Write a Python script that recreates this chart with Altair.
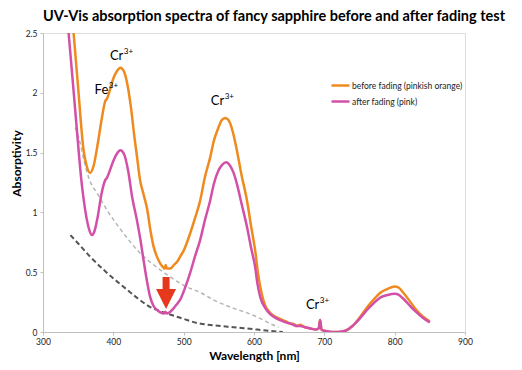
import altair as alt
import pandas as pd

# ---- data ----
BEFORE_NM = [343.5, 350, 357.7, 362, 367, 372, 378, 384, 388.5, 391, 395, 400, 405, 410, 415, 420, 425,
             430, 434, 438, 443, 448, 453, 457, 462, 467, 471, 473, 474.5, 476, 481, 486, 491, 495, 500, 509,
             516, 523.5, 530, 537.7, 543, 549.5, 554, 559, 564, 570, 575.6, 582, 590, 596, 601.7, 606, 611,
             616, 623, 630, 637, 645, 652, 656, 661, 666, 672, 680, 688, 692, 694, 696, 700, 710, 720, 730,
             740, 750, 760, 770, 780, 790, 800, 806, 812, 820, 830, 840, 850]
BEFORE_ABS = [2.50, 2.04, 1.52, 1.39, 1.33, 1.39, 1.58, 1.80, 1.93, 1.95, 2.02, 2.12, 2.18, 2.21, 2.18,
              2.07, 1.88, 1.63, 1.45, 1.27, 1.15, 1.03, 0.84, 0.72, 0.63, 0.57, 0.54, 0.53, 0.56, 0.53, 0.53,
              0.56, 0.59, 0.63, 0.68, 0.82, 0.95, 1.10, 1.29, 1.46, 1.60, 1.71, 1.77, 1.79, 1.77, 1.67, 1.52,
              1.32, 1.10, 0.88, 0.68, 0.48, 0.32, 0.22, 0.16, 0.13, 0.11, 0.09, 0.07, 0.07, 0.05, 0.06, 0.04,
              0.03, 0.02, 0.03, 0.10, 0.02, 0.01, 0.0, 0.0, 0.01, 0.05, 0.12, 0.20, 0.27, 0.33, 0.36, 0.38,
              0.37, 0.33, 0.27, 0.19, 0.13, 0.09]

AFTER_NM = [336.4, 343, 350.6, 354, 358, 362, 366, 369.6, 373, 378, 383, 388.5, 391, 395, 400, 405, 410,
            415, 421, 427, 433, 438, 443, 448, 452, 457, 463, 468, 472, 474, 476, 481, 486, 490, 495, 502, 509,
            516, 523.5, 530, 537.7, 543, 549.5, 555, 560.5, 566, 571, 575.6, 582, 590, 596, 601.7, 605, 609,
            616, 623, 630, 637, 645, 652, 656, 661, 666, 672, 680, 688, 692, 694, 696, 700, 710, 720, 730,
            740, 750, 760, 770, 780, 790, 800, 806, 812, 820, 830, 840, 850]
AFTER_ABS = [2.50, 2.05, 1.52, 1.30, 1.10, 0.95, 0.85, 0.81, 0.84, 0.97, 1.15, 1.27, 1.29, 1.35, 1.43,
             1.49, 1.52, 1.49, 1.35, 1.12, 0.95, 0.79, 0.60, 0.42, 0.30, 0.22, 0.18, 0.16, 0.155, 0.17, 0.155,
             0.17, 0.20, 0.23, 0.27, 0.37, 0.49, 0.63, 0.77, 0.93, 1.10, 1.24, 1.35, 1.40, 1.42, 1.39, 1.33,
             1.24, 1.08, 0.88, 0.70, 0.54, 0.40, 0.29, 0.20, 0.15, 0.12, 0.10, 0.08, 0.07, 0.06, 0.05, 0.05,
             0.04, 0.03, 0.02, 0.03, 0.10, 0.02, 0.01, 0.0, 0.0, 0.01, 0.05, 0.11, 0.18, 0.24, 0.29, 0.31,
             0.32, 0.31, 0.28, 0.23, 0.17, 0.12, 0.08]

LIGHT_NM = [346, 354, 358, 365, 378, 391, 410, 438, 460, 481, 500, 523.5, 542, 570, 590, 610, 623, 635]
LIGHT_ABS = [1.71, 1.55, 1.44, 1.29, 1.15, 1.02, 0.86, 0.66, 0.55, 0.46, 0.39, 0.33, 0.27, 0.20, 0.16, 0.11,
             0.07, 0.04]

DARK_NM = [339, 350, 367, 390, 414, 435, 452, 474, 500, 519, 545, 571, 605, 641]
DARK_ABS = [0.81, 0.74, 0.63, 0.50, 0.38, 0.28, 0.21, 0.16, 0.11, 0.075, 0.055, 0.04, 0.02, 0.0]

ARROW_NM = [475]
ARROW_TOP = [0.46]
ARROW_SHAFT_END = [0.33]
ARROW_HEAD = [0.275]

LABEL_NM = [414.2, 392.8, 557.6, 692.9]
LABEL_ABS = [2.275, 1.99, 1.90, 0.19]
LABEL_BASE = ["Cr", "Fe", "Cr", "Cr"]
LABEL_SUP = ["3+", "3+", "3+", "3+"]

SERIES = ["before fading (pinkish orange)", "after fading (pink)"]
COLORS = ["#ef8a1f", "#d250a8"]

FONT = "Lato"

before = pd.DataFrame({"nm": BEFORE_NM, "abs": BEFORE_ABS, "series": SERIES[0]})
after = pd.DataFrame({"nm": AFTER_NM, "abs": AFTER_ABS, "series": SERIES[1]})
light = pd.DataFrame({"nm": LIGHT_NM, "abs": LIGHT_ABS})
dark = pd.DataFrame({"nm": DARK_NM, "abs": DARK_ABS})
arrow = pd.DataFrame({"nm": ARROW_NM, "top": ARROW_TOP, "end": ARROW_SHAFT_END, "head": ARROW_HEAD})
labels = pd.DataFrame({"nm": LABEL_NM, "abs": LABEL_ABS, "base": LABEL_BASE, "sup": LABEL_SUP})

xs = alt.Scale(domain=[300, 900], nice=False)
ys = alt.Scale(domain=[0, 2.5], nice=False)

x_enc = alt.X("nm:Q", scale=xs, axis=alt.Axis(
    title="Wavelength [nm]", values=[300, 400, 500, 600, 700, 800, 900], grid=False, labelFlush=False,
    titleFont=FONT, titleFontSize=12, titleFontWeight="bold", titleColor="#000",
    titleY=23, titleBaseline="middle",
    labelFont=FONT, labelFontSize=8.5, labelColor="#222", labelPadding=2,
    tickSize=3, tickColor="#c0c0c0", domainColor="#c0c0c0"))
y_enc = alt.Y("abs:Q", scale=ys, axis=alt.Axis(
    title="Absorptivity", values=[0, 0.5, 1, 1.5, 2, 2.5], format="~g", grid=False, labelFlush=False,
    titleFont=FONT, titleFontSize=12, titleFontWeight="bold", titleColor="#000",
    titleX=-27, titleY=130, titleBaseline="middle",
    labelFont=FONT, labelFontSize=8.5, labelColor="#222", labelPadding=3,
    tickSize=3, tickColor="#c0c0c0", domainColor="#c0c0c0"))

color_enc = alt.Color("series:N", scale=alt.Scale(domain=SERIES, range=COLORS),
                      legend=alt.Legend(title=None, orient="none", legendX=287, legendY=42,
                                        symbolType="stroke", symbolSize=324, symbolStrokeWidth=2.5,
                                        labelFont=FONT, labelFontSize=8.5, labelColor="#222",
                                        labelOffset=1, rowPadding=0, padding=0))

light_line = alt.Chart(light).mark_line(color="#b5b5b5", strokeDash=[4, 3], strokeWidth=1.5,
                                        interpolate="monotone", clip=True).encode(x=x_enc, y=y_enc)
dark_line = alt.Chart(dark).mark_line(color="#555555", strokeDash=[5, 3], strokeWidth=2,
                                      interpolate="monotone", clip=True).encode(x=x_enc, y=y_enc)
before_line = alt.Chart(before).mark_line(strokeWidth=2.5, interpolate="monotone", clip=True).encode(
    x=x_enc, y=y_enc, color=color_enc)
after_line = alt.Chart(after).mark_line(strokeWidth=2.5, interpolate="monotone", clip=True).encode(
    x=x_enc, y=y_enc, color=color_enc)

shaft = alt.Chart(arrow).mark_rule(color="#e5381c", strokeWidth=7).encode(
    x="nm:Q", y="top:Q", y2="end:Q")
head = alt.Chart(arrow).mark_point(shape="M-1,-1L1,-1L0,1Z", size=400, filled=True, opacity=1,
                                    color="#e5381c").encode(x="nm:Q", y="head:Q")

base_text = alt.Chart(labels).mark_text(align="right", baseline="alphabetic", font=FONT,
                                         fontSize=13, color="#000").encode(x="nm:Q", y="abs:Q", text="base:N")
sup_text = alt.Chart(labels).mark_text(align="left", baseline="alphabetic", font=FONT, fontSize=8,
                                        dy=-6, dx=0.5, color="#000").encode(x="nm:Q", y="abs:Q", text="sup:N")

chart = alt.layer(light_line, dark_line, before_line, after_line, shaft, head, base_text, sup_text).properties(
    width=422, height=299,
    title=alt.TitleParams("UV-Vis absorption spectra of fancy sapphire before and after fading test",
                          font=FONT, fontSize=14.5, fontWeight="bold", color="#000",
                          anchor="middle", dx=20, dy=2, frame="group", baseline="middle", offset=0),
    autosize=alt.AutoSizeParams(type="none"),
    padding={"left": 35, "top": 25, "right": 49, "bottom": 30},
).configure_view(stroke=None).configure(background="white")

chart.save("out.html", embed_options={"renderer": "svg", "actions": False})
